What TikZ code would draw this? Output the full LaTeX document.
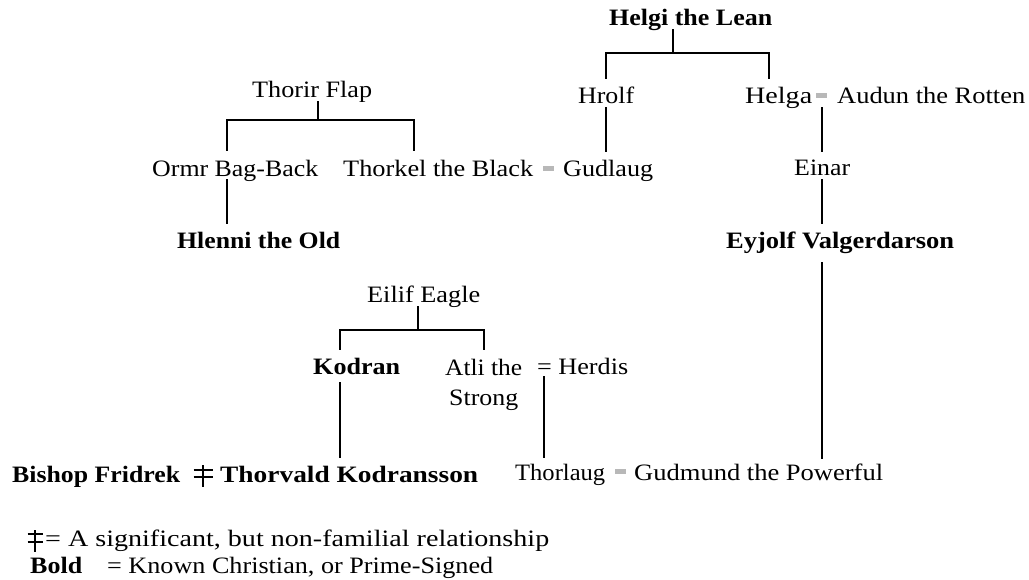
\documentclass[tikz,border=0pt]{standalone}
\usepackage{fontspec}
\setmainfont{Liberation Serif}
\usepackage{graphicx}
% set a name to a fixed width, keeping its natural height
\newcommand{\fitto}[2]{\resizebox{#1pt}{\height}{#2}}
\tikzset{
  person/.style={anchor=base west, inner sep=0pt, font=\fontsize{23.5}{28}\selectfont},
  christian/.style={person, font=\fontsize{23.5}{28}\selectfont\bfseries},
  kin/.style={line width=1.4pt, line cap=rect},
  union/.style={fill=black!28, minimum width=11pt, minimum height=5pt, inner sep=0pt, draw=none},
  nonkinline/.style={line width=1.5pt}
}
\begin{document}
\begin{tikzpicture}[x=1pt,y=-1pt]
\useasboundingbox (0,0) rectangle (1029,579);

% people
\node[christian] (helgi) at (609,25) {\fitto{163}{Helgi the Lean}};
\node[person] (hrolf) at (578,103) {\fitto{56}{Hrolf}};
\node[person] (helga) at (745,103) {\fitto{67}{Helga}};
\node[union] (m-helga) at (821,95.5) {};
\node[person] (audun) at (837,103) {\fitto{188}{Audun the Rotten}};
\node[person] (thorir) at (252,97) {\fitto{120}{Thorir Flap}};
\node[person] (ormr) at (152,176) {\fitto{166}{Ormr Bag-Back}};
\node[person] (thorkel) at (343,176) {\fitto{190}{Thorkel the Black}};
\node[union] (m-thorkel) at (548,168.5) {};
\node[person] (gudlaug) at (563,176) {\fitto{90}{Gudlaug}};
\node[person] (einar) at (794,175) {\fitto{56}{Einar}};
\node[christian] (hlenni) at (177,248) {\fitto{163}{Hlenni the Old}};
\node[christian] (eyjolf) at (726,248) {\fitto{228}{Eyjolf Valgerdarson}};
\node[person] (eilif) at (367,302) {\fitto{113}{Eilif Eagle}};
\node[christian] (kodran) at (313,374) {\fitto{87}{Kodran}};
\node[person] (atli) at (445,375) {\fitto{77}{Atli the}};
\node[person] (atli2) at (449,405) {\fitto{69}{Strong}};
\node[person] (herdis) at (537,374) {\fitto{91}{= Herdis}};
\node[christian] (fridrek) at (12,482) {\fitto{168}{Bishop Fridrek}};
\node[christian] (thorvald) at (220,482) {\fitto{258}{Thorvald Kodransson}};
\node[person] (thorlaug) at (515,480) {\fitto{90}{Thorlaug}};
\node[union] (m-thorlaug) at (620,471) {};
\node[person] (gudmund) at (634,480) {\fitto{249}{Gudmund the Powerful}};

% non-familial relationship mark between Fridrek and Thorvald
\coordinate (nk) at (203,473.5);
\draw[nonkinline] ([xshift=-9.5pt,yshift=3.6pt]nk) -- ++(19,0)
                  ([xshift=-9.5pt,yshift=-3.6pt]nk) -- ++(19,0)
                  ([yshift=8.5pt]nk) -- ([yshift=-13.5pt]nk);

% connector points
\coordinate (helgi-s) at (673,30);
\coordinate (helgi-j) at (673,53);
\coordinate (hrolf-n) at (606,78);
\coordinate (helga-n) at (769,78);
\coordinate (thorir-s) at (318,102);
\coordinate (thorir-j) at (318,120);
\coordinate (ormr-n) at (227,150);
\coordinate (thorkel-n) at (414,150);
\coordinate (eilif-s) at (418,307);
\coordinate (eilif-j) at (418,330);
\coordinate (kodran-n) at (340,349);
\coordinate (atli-n) at (484,349);
\coordinate (hrolf-s) at (606,108);
\coordinate (gudlaug-n) at (606,151);
\coordinate (helga-s) at (822,108);
\coordinate (einar-n) at (822,151);
\coordinate (einar-s) at (822,180);
\coordinate (eyjolf-n) at (822,223);
\coordinate (eyjolf-s) at (822,263);
\coordinate (gudmund-n) at (822,458);
\coordinate (ormr-s) at (227,180);
\coordinate (hlenni-n) at (227,223);
\coordinate (kodran-s) at (340,383);
\coordinate (thorvald-n) at (340,457);
\coordinate (herdis-s) at (544,377);
\coordinate (thorlaug-n) at (544,457);

% sibling forks
\draw[kin] (helgi-s) -- (helgi-j);
\draw[kin] (hrolf-n) |- (helgi-j) -| (helga-n);
\draw[kin] (thorir-s) -- (thorir-j);
\draw[kin] (ormr-n) |- (thorir-j) -| (thorkel-n);
\draw[kin] (eilif-s) -- (eilif-j);
\draw[kin] (kodran-n) |- (eilif-j) -| (atli-n);

% descent lines
\draw[kin] (hrolf-s) -- (gudlaug-n);
\draw[kin] (helga-s) -- (einar-n);
\draw[kin] (einar-s) -- (eyjolf-n);
\draw[kin] (eyjolf-s) -- (gudmund-n);
\draw[kin] (ormr-s) -- (hlenni-n);
\draw[kin] (kodran-s) -- (thorvald-n);
\draw[kin] (herdis-s) -- (thorlaug-n);

% key
\coordinate (km) at (35,538);
\draw[nonkinline] ([xshift=-7.5pt,yshift=4pt]km) -- ++(15,0)
                  ([xshift=-7.5pt,yshift=-4pt]km) -- ++(15,0)
                  ([yshift=8pt]km) -- ([yshift=-14pt]km);
\node[person] (key1) at (45,546) {\fitto{504}{= A significant, but non-familial relationship}};
\node[christian] (key2) at (30,573) {\fitto{52}{Bold}};
\node[person] (key3) at (107,573) {\fitto{386}{= Known Christian, or Prime-Signed}};
\end{tikzpicture}
\end{document}
